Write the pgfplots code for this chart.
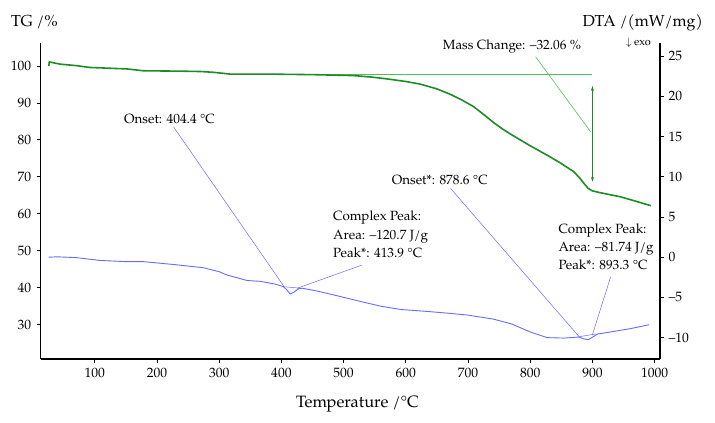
\documentclass[border=0pt]{standalone}
\usepackage{fontspec}
\setmainfont{TeX Gyre Pagella}
\usepackage{pgfplots}
\pgfplotsset{compat=1.18}
\usepackage{pgfplotstable}
\usetikzlibrary{arrows.meta}

\definecolor{tgGreen}{RGB}{28,140,36}
\definecolor{tgLight}{RGB}{80,190,90}
\definecolor{dtaBlue}{RGB}{105,105,255}

% TG: mass in percent against temperature
\pgfplotstableread{
T    m
26   100.0
27   101.1
44   100.5
70   100.1
92   99.6
152  99.2
178  98.7
237  98.6
270  98.5
290  98.3
318  97.8
380  97.8
452  97.65
516  97.4
545  97.0
570  96.5
600  95.8
623  95.1
650  93.8
672  92.3
690  90.8
709  89.0
725  86.9
741  84.7
755  83.0
770  81.4
784  80.0
800  78.4
830  75.6
849  73.7
870  71.4
880  69.6
886  68.3
893  66.9
900  66.2
913  65.7
945  64.6
970  63.4
994  62.2
}\tgdata

% DTA signal in mW/mg against temperature
\pgfplotstableread{
T    d
26   0.0
40   0.05
70   -0.05
108  -0.4
150  -0.55
178  -0.55
226  -0.9
274  -1.3
300  -1.8
312  -2.2
345  -2.9
366  -3.0
390  -3.35
403  -3.65
408  -4.0
414  -4.57
420  -4.35
427  -3.95
433  -3.85
457  -4.2
490  -4.8
527  -5.5
560  -6.1
592  -6.5
627  -6.7
666  -6.95
700  -7.2
741  -7.7
770  -8.3
800  -9.3
827  -10.0
854  -10.06
878  -9.93
886  -10.15
893  -10.27
899  -10.0
908  -9.56
929  -9.3
960  -8.9
991  -8.4
}\dtadata

\pgfplotsset{
  ttstyle/.style={
    scale only axis,
    width=619.3bp, height=316.3bp,
    at={(40.7bp,64bp)}, anchor=south west,
    xmin=13.1, xmax=1008.6,
    tick align=outside,
    major tick length=4bp,
    axis line style={line width=1.3pt},
    tick style={line width=0.8pt, black},
    tick label style={font=\fontsize{13.6}{15}\selectfont},
    /pgf/number format/assume math mode=true,
    /pgf/number format/1000 sep={},
  }
}

\begin{document}
\begin{tikzpicture}
\useasboundingbox (0,0) rectangle (715bp,423bp);

% left axis: TG
\begin{axis}[ttstyle,
  ymin=20.72, ymax=106.3,
  axis y line*=left, axis x line*=bottom,
  xtick={100,200,...,1000},
  ytick={30,40,...,100},
  xticklabel style={yshift=-2bp},
  yticklabel style={xshift=-2bp},
]
  % reference level and mass change arrow
  \draw[tgLight, line width=0.9pt] (axis cs:380,97.75) -- (axis cs:900,97.75);
  \addplot[tgGreen, line width=1.6pt] table[x=T, y=m] {\tgdata};
  \draw[tgGreen, line width=0.6pt, -{Stealth[length=5bp,width=3bp]}] (axis cs:900,82.0) -- (axis cs:900,94.6);
  \draw[tgGreen, line width=0.6pt, -{Stealth[length=5bp,width=3bp]}] (axis cs:900,82.0) -- (axis cs:900,68.7);
  \draw[tgLight, line width=0.6pt] (axis cs:808.6,102.5) -- (axis cs:897,82.2);
\end{axis}

% right axis: DTA
\begin{axis}[ttstyle,
  ymin=-12.66, ymax=26.68,
  axis y line*=right, axis x line=none,
  ytick={-10,-5,0,5,10,15,20,25},
  yticklabels={–10,–5,0,5,10,15,20,25},
  yticklabel style={xshift=1bp},
]
  \addplot[dtaBlue, line width=0.9pt] table[x=T, y=d] {\dtadata};
  % peak baselines
  \draw[dtaBlue, line width=0.5pt] (axis cs:403.5,-3.67) -- (axis cs:433,-3.87);
  \draw[dtaBlue, line width=0.5pt] (axis cs:878.3,-9.89) -- (axis cs:905,-9.55);
  % leader lines
  \draw[dtaBlue, line width=0.5pt] (axis cs:226.5,16.23) -- (axis cs:404.4,-3.67);
  \draw[dtaBlue, line width=0.5pt] (axis cs:529.7,-0.97) -- (axis cs:425,-3.87);
  \draw[dtaBlue, line width=0.5pt] (axis cs:671.8,8.57) -- (axis cs:878.6,-9.89);
  \draw[dtaBlue, line width=0.5pt] (axis cs:929.3,-2.43) -- (axis cs:899.8,-9.68);
\end{axis}

% axis titles
\node[anchor=base west, inner sep=0pt, font=\fontsize{16}{18}\selectfont] at (11bp,396bp) {TG /\%};
\node[anchor=base east, inner sep=0pt, font=\fontsize{16}{18}\selectfont] at (703bp,396bp) {DTA /(mW/mg)};
\node[anchor=base east, inner sep=0pt, font=\fontsize{11}{13}\selectfont] at (651bp,377bp) {$\downarrow$ exo};
\node[anchor=base, inner sep=0pt, font=\fontsize{16.5}{18}\selectfont] at (357.5bp,16bp) {Temperature /°C};

% annotations
\begin{scope}[every node/.style={anchor=base west, inner sep=0pt, font=\fontsize{13.4}{15}\selectfont}]
  \node at (442.7bp,373bp) {Mass Change: –32.06 \%};
  \node at (124bp,299bp) {Onset: 404.4 °C};
  \node at (333bp,202bp) {Complex Peak:};
  \node at (333bp,183.7bp) {Area: –120.7 J/g};
  \node at (333bp,165.7bp) {Peak*: 413.9 °C};
  \node at (391.7bp,238.7bp) {Onset*: 878.6 °C};
  \node at (558.3bp,189.7bp) {Complex Peak:};
  \node at (558.3bp,171.3bp) {Area: –81.74 J/g};
  \node at (558.3bp,153bp) {Peak*: 893.3 °C};
\end{scope}
\end{tikzpicture}
\end{document}
